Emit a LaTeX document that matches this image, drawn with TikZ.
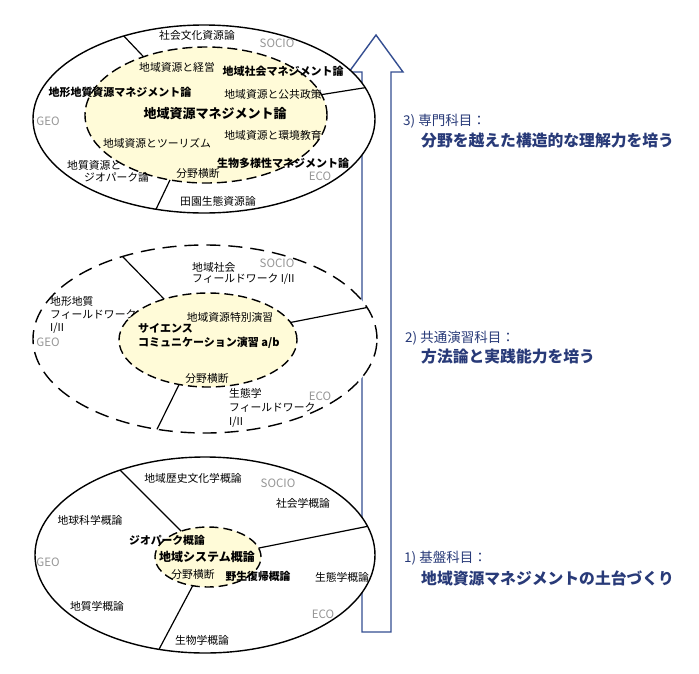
\documentclass[tikz,border=0pt]{standalone}
\usepackage{fontspec}
\setmainfont{Noto Sans CJK JP}
\usetikzlibrary{shapes.geometric}
\definecolor{arrowblue}{RGB}{52,78,145}
\definecolor{navy}{RGB}{40,58,120}
\definecolor{cream}{RGB}{255,251,216}
\definecolor{zonegray}{RGB}{150,150,150}
\tikzset{
  outerell/.style={ellipse, draw=black, fill=white, line width=1.4pt, inner sep=0pt, outer sep=0pt},
  innerell/.style={ellipse, draw=black, fill=cream, line width=1.4pt, inner sep=0pt, outer sep=0pt, dash pattern=on 9pt off 5pt},
  divider/.style={line width=1.2pt},
  lbl/.style={font=\fontsize{10.8}{12}\selectfont, inner sep=0pt},
  blbl/.style={font=\fontsize{11}{13}\selectfont\bfseries, inner sep=0pt},
  zone/.style={font=\fontsize{11.5}{12}\selectfont, text=zonegray, inner sep=0pt},
  headlbl/.style={font=\fontsize{13.5}{15}\selectfont, text=navy, inner sep=0pt, anchor=west},
  sublbl/.style={font=\fontsize{15.8}{17}\selectfont\bfseries, text=navy, inner sep=0pt, anchor=west},
}
\begin{document}
\begin{tikzpicture}[x=1pt,y=-1pt]
\useasboundingbox (0,0) rectangle (699,673);
\fill[white] (0,0) rectangle (699,673);
% arrow
\draw[arrowblue, line width=1.4pt, fill=white, line join=miter]
  (362,632) -- (362,72) -- (349,72) -- (376,35) -- (403,72) -- (391,72) -- (391,632) -- cycle;

% ===== top =====
\node[outerell, minimum width=342pt, minimum height=188pt] (tO) at (204,119) {};
\node[innerell, dash pattern=on 10pt off 5pt, minimum width=242pt, minimum height=136pt] (tI) at (206,115) {};
\draw[divider] (tO.134.3) -- (tI.137.4);
\draw[divider] (tI.10.2) -- (tO.11.6);
\draw[divider] (tO.-118.6) -- (tI.-119);
\node[lbl] (t1) at (197,35) {社会文化資源論};
\node[zone] (tz1) at (277,43) {SOCIO};
\node[lbl] (t2) at (177,67) {地域資源と経営};
\node[blbl] (t3) at (283,71) {地域社会マネジメント論};
\node[blbl] (t4) at (120,92) {地形地質資源マネジメント論};
\node[lbl] (t5) at (273,94) {地域資源と公共政策};
\node[font=\fontsize{13}{15}\selectfont\bfseries, inner sep=0pt] (t6) at (215,114) {地域資源マネジメント論};
\node[zone] (tz2) at (48,121) {GEO};
\node[lbl] (t7) at (273,135) {地域資源と環境教育};
\node[lbl] (t8) at (157,143) {地域資源とツーリズム};
\node[blbl] (t9) at (283,163) {生物多様性マネジメント論};
\node[lbl, align=left, anchor=west] (t10) at (67,171) {地質資源と\\\hspace*{17pt}ジオパーク論};
\node[lbl] (t11) at (198,173) {分野横断};
\node[zone] (tz3) at (320,176) {ECO};
\node[lbl] (t12) at (218,201) {田園生態資源論};

% ===== middle =====
\node[outerell, dash pattern=on 14pt off 8pt, minimum width=344pt, minimum height=188pt] (mO) at (205,339) {};
\node[innerell, minimum width=178pt, minimum height=94pt] (mI) at (208,340) {};
\draw[divider] (mO.135.7) -- (mI.137);
\draw[divider] (mI.12.7) -- (mO.11.3);
\draw[divider] (mO.-118.8) -- (mI.-123.7);
\node[lbl, align=left, anchor=west, font=\fontsize{10.8}{11.8}\selectfont] (m1) at (192,273.5) {地域社会\\フィールドワーク I/II};
\node[zone] (mz1) at (277,263) {SOCIO};
\node[lbl, align=left, anchor=west, font=\fontsize{10.8}{13}\selectfont] (m2) at (50,315) {地形地質\\フィールドワーク\\I/II};
\node[zone] (mz2) at (48,342) {GEO};
\node[lbl] (m3) at (230,317) {地域資源特別演習};
\node[blbl, align=left, anchor=west, font=\fontsize{11}{14}\selectfont\bfseries] (m4) at (138,336) {サイエンス\\コミュニケーション演習 a/b};
\node[lbl] (m5) at (207,378) {分野横断};
\node[lbl, align=left, anchor=west, font=\fontsize{10.8}{13.7}\selectfont] (m6) at (229,408) {生態学\\フィールドワーク\\I/II};
\node[zone] (mz3) at (320,396) {ECO};

% ===== bottom =====
\node[outerell, minimum width=340pt, minimum height=196pt] (bO) at (205,555) {};
\node[innerell, minimum width=106pt, minimum height=60pt] (bI) at (208,557) {};
\draw[divider] (bO.135.4) -- (bI.136);
\draw[divider] (bI.10.9) -- (bO.10.7);
\draw[divider] (bO.-116.6) -- (bI.-118);
\node[lbl] (b1) at (193,478) {地域歴史文化学概論};
\node[zone] (bz1) at (278,483) {SOCIO};
\node[lbl] (b2) at (303,503) {社会学概論};
\node[lbl] (b3) at (90,520) {地球科学概論};
\node[blbl, font=\fontsize{10.8}{12}\selectfont\bfseries] (b4) at (167,540) {ジオパーク概論};
\node[font=\fontsize{12}{14}\selectfont\bfseries, inner sep=0pt] (b5) at (207,557) {地域システム概論};
\node[zone] (bz2) at (48,562) {GEO};
\node[lbl] (b6) at (193,574) {分野横断};
\node[blbl, font=\fontsize{10.8}{12}\selectfont\bfseries] (b7) at (258,576) {野生復帰概論};
\node[lbl] (b8) at (342,577) {生態学概論};
\node[lbl] (b9) at (97,606) {地質学概論};
\node[zone] (bz3) at (323,614) {ECO};
\node[lbl] (b10) at (202,640) {生物学概論};

% ===== right labels =====
\node[headlbl] (r3a) at (403,121) {3) 専門科目：};
\node[sublbl] (r3b) at (421,141) {分野を越えた構造的な理解力を培う};
\node[headlbl] (r2a) at (405,338) {2) 共通演習科目：};
\node[sublbl] (r2b) at (421,357) {方法論と実践能力を培う};
\node[headlbl] (r1a) at (404,558) {1) 基盤科目：};
\node[sublbl] (r1b) at (421,578) {地域資源マネジメントの土台づくり};
\end{tikzpicture}
\end{document}
